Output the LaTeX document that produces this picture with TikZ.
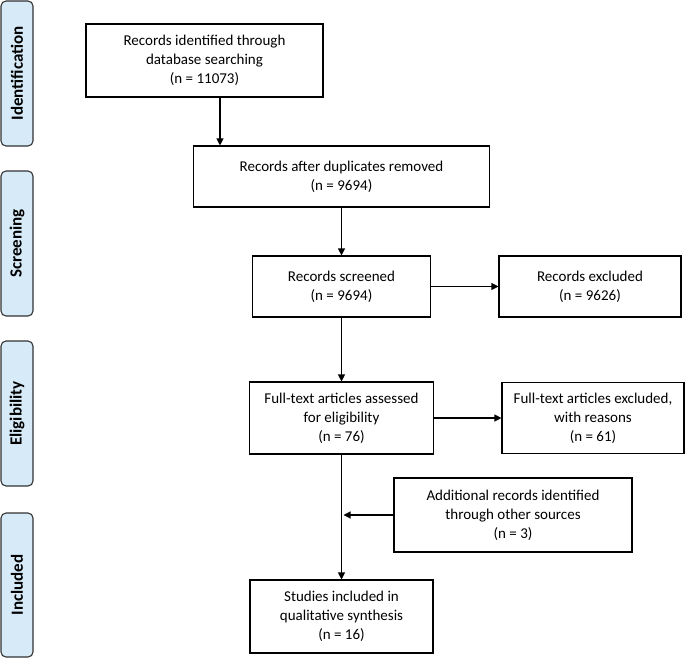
\documentclass[tikz,border=0pt]{standalone}
\usepackage{fontspec}
\setmainfont{Carlito}
\usetikzlibrary{arrows.meta,positioning}
\definecolor{phaseblue}{RGB}{214,234,248}

\begin{document}
\begin{tikzpicture}[x=1pt,y=-1pt,auto,>={Triangle[length=7pt,width=7pt]},
		box/.style={draw,line width=1.1pt,align=center,inner sep=0pt,font=\fontsize{15}{19}\selectfont},
		phase/.style={draw=black!80,fill=phaseblue,rounded corners=5pt,line width=1.1pt,minimum height=32pt,rotate=90,font=\bfseries\fontsize{17}{19}\selectfont}]
				\useasboundingbox (0,0) rectangle (685,658);

				\node[phase,minimum width=145pt] (identification) at (17,73.5) {Identification};
				\node[phase,minimum width=145pt] (screening) at (17,243.5) {Screening};
				\node[phase,minimum width=145pt] (eligibility) at (17,413.5) {Eligibility};
				\node[phase,minimum width=144pt] (included) at (17,585) {Included};

				\node[box,minimum width=237pt,minimum height=73pt] (identified) at (204.5,60.5) {Records identified through\\database searching\\(n = 11073)};
				\node[box,minimum width=296pt,minimum height=61pt] (removed) at (341.5,176.5) {Records after duplicates removed\\(n = 9694)};
				\node[box,minimum width=178pt,minimum height=61pt] (screened) at (341.5,286.5) {Records screened\\(n = 9694)};
				\node[box,minimum width=182pt,minimum height=61pt] (excluded) at (590,286.5) {Records excluded\\(n = 9626)};
				\node[box,minimum width=184pt,minimum height=72pt] (fulltext) at (341.5,418) {Full-text articles assessed\\for eligibility\\(n = 76)};
				\node[box,minimum width=182pt,minimum height=71pt] (reasons) at (593,418) {Full-text articles excluded,\\with reasons\\(n = 61)};
				\node[box,minimum width=238pt,minimum height=74pt] (additional) at (513,515) {Additional records identified\\through other sources\\(n = 3)};
				\node[box,minimum width=183pt,minimum height=73pt] (synthesis) at (341.5,616.5) {Studies included in\\qualitative synthesis\\(n = 16)};
				\coordinate (join) at (fulltext.south |- additional.west);

				\draw [->,line width=1.1pt] ([xshift=15.5pt]identified.south) to ([xshift=15.5pt]identified.south |- removed.north);
				\draw [->,line width=1.1pt] (removed) to (screened);
				\draw [->,line width=1.1pt] (screened) to (excluded);
				\draw [->,line width=1.1pt] (screened) to (fulltext);
				\draw [->,line width=1.1pt] (fulltext) to (reasons);
				\draw [->,line width=1.1pt] (fulltext) to (synthesis);
				\draw [->,line width=1.1pt] (additional) to ([xshift=2pt]join);
		\end{tikzpicture}
\end{document}
